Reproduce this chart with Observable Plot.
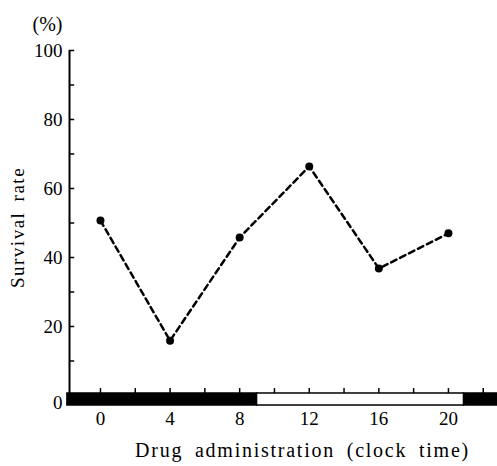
<!DOCTYPE html>
<html><head><meta charset="utf-8">
<script src="https://cdn.jsdelivr.net/npm/d3@7"></script>
<script src="https://cdn.jsdelivr.net/npm/@observablehq/plot@0.6"></script>
<style>body{margin:0;background:#fff} svg text{font-family:"Liberation Serif","DejaVu Serif",Times,serif !important;}</style>
</head><body><div id="chart"></div>
<script>
const hours = [0, 4, 8, 12, 16, 20];
const survival = [50.7, 15.9, 45.8, 66.4, 36.8, 47.0];
const xTickLabels = [0, 4, 8, 12, 16, 20];
const yTickLabels = [20, 40, 60, 80, 100];
const yMinorTicks = [10, 20, 30, 40, 50, 60, 70, 80, 90, 100];
const xMinorTicks = [0, 2, 4, 6, 8, 10, 12, 14, 16, 18, 20, 22];
const periodStart = [-1.9, 9.0, 20.9];
const periodEnd = [9.0, 20.9, 22.82];
const periodDark = [true, false, true];
const xDomain = [-1.78, 22.82];

const points = hours.map((h, i) => ({h, v: survival[i]}));
const periods = periodStart.map((s, i) => ({s, e: periodEnd[i], dark: periodDark[i]}));
const ff = "'Liberation Serif', 'DejaVu Serif', Times, serif";

const chart = Plot.plot({
  width: 497, height: 466,
  marginTop: 50, marginBottom: 71, marginLeft: 69, marginRight: 0,
  style: {fontFamily: ff, fontSize: "19px", color: "#000", background: "#fff"},
  x: {domain: xDomain},
  y: {domain: [0, 100]},
  marks: [
    Plot.ruleX([xDomain[0]], {y1: 0, y2: 100, stroke: "#000", strokeWidth: 2}),
    Plot.ruleY(yMinorTicks, {x1: xDomain[0], x2: xDomain[0] + 0.3, stroke: "#000", strokeWidth: 1.5}),
    Plot.axisY(yTickLabels, {tickSize: 0, tickPadding: 7, label: null, fontSize: 19, fill: "#000"}),
    Plot.axisY([0], {tickSize: 0, tickPadding: 7, dy: 7, label: null, fontSize: 19, fill: "#000"}),
    Plot.axisX(xTickLabels, {tickSize: 0, tickPadding: 16, label: null, fontSize: 19, fill: "#000"}),
    Plot.ruleX(xMinorTicks, {y1: 0.58, y2: 2.0, stroke: "#000", strokeWidth: 1.5}),
    Plot.rect(periods, {x1: "s", x2: "e", y1: -2.9, y2: 0.58, fill: d => d.dark ? "#000" : "#fff", stroke: "#000", strokeWidth: 1.5, clip: false}),
    Plot.line(points, {x: "h", y: "v", stroke: "#000", strokeWidth: 2.5, strokeDasharray: "6,4"}),
    Plot.dot(points, {x: "h", y: "v", r: 4, fill: "#000"}),
    Plot.text(["(%)"], {frameAnchor: "top-left", textAnchor: "middle", lineAnchor: "middle", dx: -22, dy: -26, fontSize: 20, fill: "#000"}),
    Plot.text(["Survival rate"], {frameAnchor: "left", textAnchor: "middle", lineAnchor: "middle", rotate: -90, dx: -52, dy: 4.5, fontSize: 19, fill: "#000"}),
    Plot.text(["Drug administration (clock time)"], {frameAnchor: "bottom", textAnchor: "middle", lineAnchor: "middle", dx: 19, dy: 55, fontSize: 20, fill: "#000"})
  ]
});
chart.querySelectorAll("text").forEach(t => {
  if (t.textContent === "Drug administration (clock time)") { t.style.letterSpacing = "1.75px"; t.style.wordSpacing = "5px"; }
  if (t.textContent === "Survival rate") { t.style.letterSpacing = "1.5px"; t.style.wordSpacing = "4px"; }
});
document.getElementById("chart").appendChild(chart);
</script>
</body></html>
